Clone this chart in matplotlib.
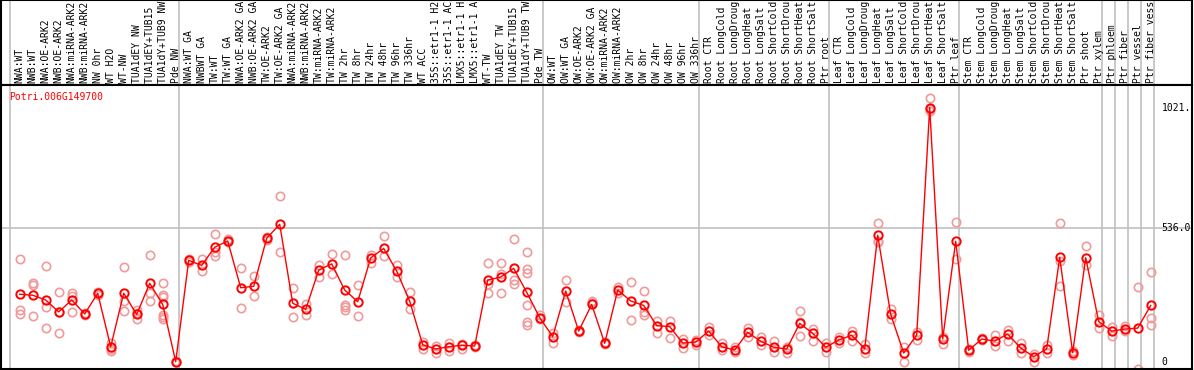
import matplotlib
matplotlib.use("Agg")
import matplotlib.pyplot as plt
import matplotlib.transforms as mtransforms

labels = [
    "NWA:WT", "NWB:WT", "NWA:OE-ARK2", "NWB:OE-ARK2", "NWA:miRNA-ARK2", "NWB:miRNA-ARK2",
    "NW 0hr", "WT H2O", "WT-NW", "TUA1dEY NW", "TUA1dEY+TUB15 NW", "TUA1dY+TUB9 NW", "Pde NW",
    "NWA:WT GA", "NWBWT GA", "TW:WT", "TW:WT GA", "NWA:OE-ARK2 GA", "NWB:OE-ARK2 GA",
    "TW:OE-ARK2", "TW:OE-ARK2 GA", "NWA:miRNA-ARK2 GA", "NWB:miRNA-ARK2 GA", "TW:miRNA-ARK2",
    "TW:miRNA-ARK2 GA", "TW 2hr", "TW 8hr", "TW 24hr", "TW 48hr", "TW 96hr", "TW 336hr",
    "WT ACC", "35S::etr1-1 H2O", "35S::etr1-1 ACC", "LMX5::etr1-1 H2O", "LMX5::etr1-1 ACC",
    "WT-TW", "TUA1dEY TW", "TUA1dEY+TUB15 TW", "TUA1dY+TUB9 TW", "Pde TW",
    "OW:WT", "OW:WT GA", "OW:OE-ARK2", "OW:OE-ARK2 GA", "OW:miRNA-ARK2", "OW:miRNA-ARK2 GA",
    "OW 2hr", "OW 8hr", "OW 24hr", "OW 48hr", "OW 96hr", "OW 336hr",
    "Root CTR", "Root LongCold", "Root LongDrought", "Root LongHeat", "Root LongSalt",
    "Root ShortCold", "Root ShortDrought", "Root ShortHeat", "Root ShortSalt", "Ptr root",
    "Leaf CTR", "Leaf LongCold", "Leaf LongDrought", "Leaf LongHeat", "Leaf LongSalt",
    "Leaf ShortCold", "Leaf ShortDrought", "Leaf ShortHeat", "Leaf ShortSalt", "Ptr leaf",
    "Stem CTR", "Stem LongCold", "Stem LongDrought", "Stem LongHeat", "Stem LongSalt",
    "Stem ShortCold", "Stem ShortDrought", "Stem ShortHeat", "Stem ShortSalt", "Ptr shoot",
    "Ptr xylem", "Ptr phloem", "Ptr fiber", "Ptr vessel", "Ptr fiber vessel",
]

means = [
    271, 267, 248, 200, 248, 192, 275, 60, 275, 190, 315, 230, 0,
    407, 387, 460, 485, 297, 303, 496, 552, 235, 210, 368, 393, 288, 241, 417, 455, 364, 243,
    68, 51, 60, 66, 63, 328, 340, 375, 279, 177,
    101, 284, 123, 230, 74, 288, 244, 226, 145, 141, 75, 79,
    123, 60, 47, 118, 82, 58, 51, 154, 114, 58,
    87, 106, 52, 508, 190, 35, 107, 1021, 92, 484,
    46, 91, 83, 111, 55, 20, 52, 419, 36, 418, 161,
    123, 131, 135, 226,
]

replicates = [
    [411, 208, 190], [315, 308, 184], [383, 221, 134], [280, 114, 200], [275, 264, 198],
    [194, 186], [280, 275, 268], [74, 50, 44], [379, 245, 204], [208, 173, 195],
    [427, 275, 244], [315, 266, 258, 181, 170, 188], [0, 2],
    [411, 400], [411, 363], [512, 442, 423], [494, 480], [375, 216], [343, 263],
    [502, 490], [666, 441], [297, 180], [232, 188], [390, 342], [433, 351],
    [427, 228, 208, 218], [307, 184], [430, 395], [505, 425], [388, 342], [279, 210],
    [79, 50], [63, 34], [74, 42], [71, 52], [60, 66], [395, 312, 275], [396, 352, 275],
    [492, 328, 312], [441, 372, 355, 226, 161, 149], [186, 170],
    [114, 74], [328, 240], [120, 126], [244, 236], [70, 78], [299, 275], [320, 168],
    [284, 201, 186], [165, 114], [165, 95], [92, 54], [87, 68],
    [141, 107], [76, 47], [60, 39], [137, 98], [98, 68], [82, 39], [36, 60],
    [204, 103, 160], [133, 84], [76, 39],
    [98, 74], [125, 84], [71, 36], [556, 486, 481], [210, 173], [60, 0], [121, 87],
    [1058, 1014, 1008], [100, 71], [560, 411],
    [40, 52], [95, 88], [107, 63], [127, 84], [74, 34], [31, 0], [67, 36],
    [556, 405, 304], [44, 27], [465, 388], [188, 134],
    [141, 103], [143, 125], [299, -28], [359, 176, 146],
]

group_ends = [-1, 12, 40, 52, 62, 72, 83, 84, 85, 86, 87]
ytick_vals = [0, 536.0, 1021.0]
ytick_labels = ["0", "536.0", "1021."]
gene_title = "Potri.006G149700"

W, H = 1194, 370
MONO = "DejaVu Sans Mono"
FS = 7.0
MAX_CHARS = 14   # header area only shows this many characters
GREY = "#c0c0c0"
RED = "#ff0000"
PINK = "#f09a9a"

fig = plt.figure(figsize=(W / 100, H / 100), dpi=100)


def px_box(x0, y0, x1, y1):
    return [x0 / W, 1 - y1 / H, (x1 - x0) / W, (y1 - y0) / H]


ax_h = fig.add_axes(px_box(1, 0, 1192, 85))
ax = fig.add_axes(px_box(1, 85, 1192, 369))

xlim = ((1 - 19.7) / 13, (1192 - 19.7) / 13)
for a in (ax, ax_h):
    a.set_xlim(*xlim)
    a.set_xticks([])
    a.set_yticks([])
    for s in a.spines.values():
        s.set_color("black")
        s.set_linewidth(1.5)
    for g in group_ends:
        a.axvline(g + 0.27, color=GREY, lw=1.2, zorder=1)

ax_h.set_ylim(0, 1)
ax.set_ylim(-29.3, 1111.7)

# header labels
trans = mtransforms.blended_transform_factory(ax_h.transData, ax_h.transAxes)
for i, lab in enumerate(labels):
    ax_h.text(i, 2 / 85, lab[:MAX_CHARS], rotation=90, ha="center", va="bottom",
              family=MONO, fontsize=FS, color="black", transform=trans, clip_on=True)

# grid line
ax.axhline(536.0, color=GREY, lw=1.2, zorder=1)

# replicates
for i, reps in enumerate(replicates):
    ax.plot([i] * len(reps), reps, linestyle="none", marker="o", ms=6,
            mfc="none", mec=PINK, mew=1.2, zorder=2)

# means
ax.plot(range(len(means)), means, color=RED, lw=1.0, marker="o", ms=6,
        mfc="none", mec=RED, mew=1.4, zorder=3)

# right-side value labels
for v, t in zip(ytick_vals, ytick_labels):
    ax.text(87.85, v, t, ha="left", va="center", family=MONO, fontsize=FS,
            color="black", clip_on=True)

# title
ax.text(-0.82, 1063, gene_title, ha="left", va="center", family=MONO,
        fontsize=FS, color=RED)

fig.savefig("out.png", dpi=100)
